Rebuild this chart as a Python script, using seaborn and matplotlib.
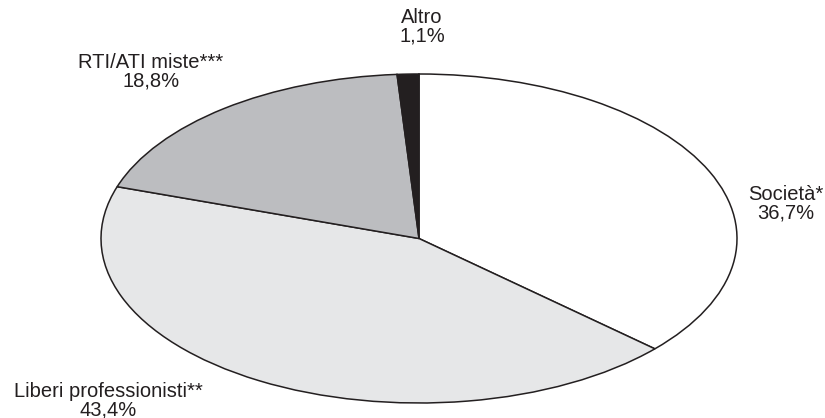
import matplotlib
matplotlib.use("Agg")
import matplotlib.pyplot as plt
import seaborn as sns

categorie = ["Società*", "Liberi professionisti**", "RTI/ATI miste***", "Altro"]
quote = [36.7, 43.4, 18.8, 1.1]
etichette = ["36,7%", "43,4%", "18,8%", "1,1%"]
colori = ["#ffffff", "#e6e7e8", "#bcbdc0", "#231f20"]

sns.set_theme(style="white")
plt.rcParams['font.family'] = ['Liberation Sans', 'DejaVu Sans']

fig = plt.figure(figsize=(8.25, 4.18), dpi=100)
W, H = 825, 418
ax = fig.add_axes([101 / W, (H - 403) / H, 636 / W, 329 / H])

ax.pie(quote, colors=colori, startangle=90, counterclock=False,
       wedgeprops=dict(edgecolor="#231f20", linewidth=1.1))
ax.set_aspect('auto')
ax.set_xlim(-1, 1)
ax.set_ylim(-1, 1)
ax.axis('off')

# posizioni delle etichette (pixel della figura)
pos = [(786, 204), (108, 401), (151, 72), (422, 27)]
for (x, y), nome, lab in zip(pos, categorie, etichette):
    fig.text(x / W, 1 - y / H, nome + "\n" + lab, ha='center', va='center',
             fontsize=14.5, color="#231f20", linespacing=0.95)

fig.savefig("out.png", dpi=100)
